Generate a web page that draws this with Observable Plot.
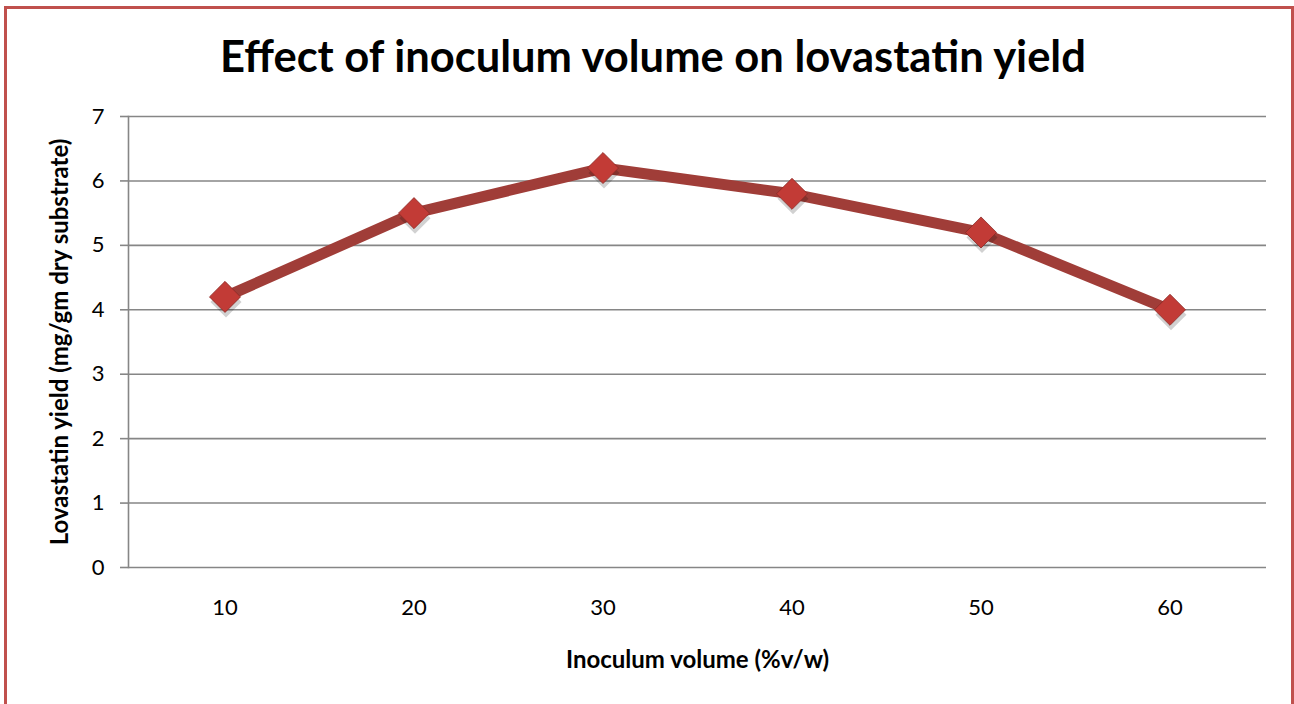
<!DOCTYPE html>
<html>
<head>
<meta charset="utf-8">
<script src="https://cdn.jsdelivr.net/npm/d3@7"></script>
<script src="https://cdn.jsdelivr.net/npm/@observablehq/plot@0.6"></script>
<style>
  html, body { margin: 0; padding: 0; background: #fff; }
  #wrap { position: relative; width: 1294px; height: 704px; overflow: hidden; font-family: Lato, "Open Sans", sans-serif; background: #fff; }
  #frame { position: absolute; left: 4px; top: 6px; width: 1290px; height: 720px; border: 3.5px solid #c0504d; box-sizing: border-box; z-index: 2; pointer-events: none; }
  #title { position: absolute; left: 6px; top: 0; width: 1294px; height: 100px; text-align: center; font-weight: bold; font-size: 43.5px; line-height: 100px; color: #000; padding-top: 5px; box-sizing: border-box; z-index: 1; }
  #chart { position: absolute; left: 0; top: 100px; z-index: 0; }
</style>
</head>
<body>
<div id="wrap">
  <div id="frame"></div>
  <div id="title">Effect of inoculum volume on lovastatin yield</div>
  <div id="chart"></div>
</div>
<script>
const inoculum = ["10", "20", "30", "40", "50", "60"];
const yieldValues = [4.2, 5.5, 6.2, 5.8, 5.2, 4.0];
const yTicks = [0, 1, 2, 3, 4, 5, 6, 7];
const xLabel = "Inoculum volume (%v/w)";
const yLabel = "Lovastatin yield (mg/gm dry substrate)";

const data = inoculum.map((c, i) => ({c, v: yieldValues[i]}));

const chart = Plot.plot({
  width: 1294,
  height: 604,
  marginLeft: 128,
  marginRight: 28,
  marginTop: 16,
  marginBottom: 137,
  style: {fontFamily: "Lato, 'Open Sans', sans-serif", fontSize: "22px", color: "#000", background: "transparent"},
  x: {type: "band", domain: inoculum, padding: 0},
  y: {domain: [0, 7]},
  marks: [
    Plot.ruleY(yTicks, {stroke: "#868686", strokeWidth: 1.6, strokeOpacity: 1}),
    Plot.frame({anchor: "left", stroke: "#868686", strokeWidth: 1.6}),
    Plot.axisY({ticks: yTicks, tickFormat: d => String(d), tickSize: 8, tickPadding: 16, stroke: "#868686", strokeWidth: 1.6, label: null, fontSize: 22}),
    Plot.axisX({tickSize: 0, tickPadding: 32, label: null, fontSize: 22}),
    Plot.text([yLabel], {frameAnchor: "left", textAnchor: "middle", rotate: -90, dx: -68, fontWeight: "bold", fontSize: 24}),
    Plot.text([xLabel], {frameAnchor: "bottom", dy: 100, fontWeight: "bold", fontSize: 24}),
    Plot.line(data, {x: "c", y: "v", stroke: "#a03d38", strokeWidth: 11, strokeLinejoin: "round"}),
    Plot.dot(data, {x: "c", y: "v", symbol: "diamond2", r: 14, fill: "#000", fillOpacity: 0.18, stroke: "none", dx: 1, dy: 5}),
    Plot.dot(data, {x: "c", y: "v", symbol: "diamond2", r: 14, fill: "#c23b36", stroke: "#8a2a26", strokeWidth: 0.8})
  ]
});
document.getElementById("chart").append(chart);
</script>
</body>
</html>
